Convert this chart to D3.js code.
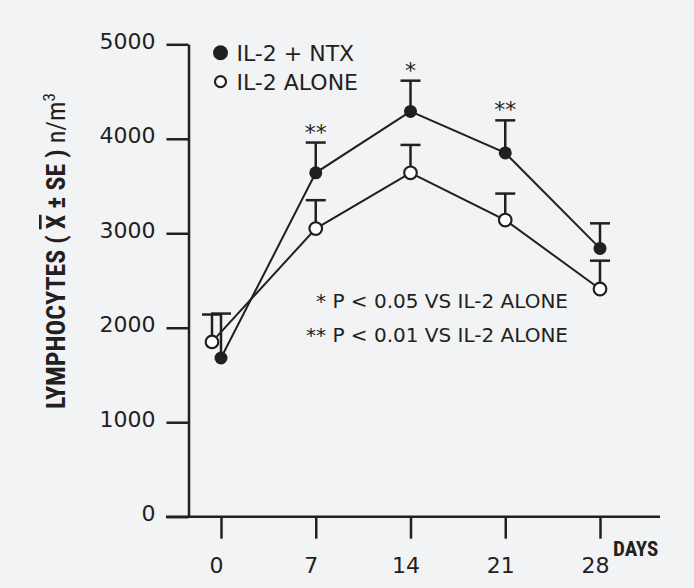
<!DOCTYPE html>
<html>
<head>
<meta charset="utf-8">
<script src="https://cdn.jsdelivr.net/npm/d3@7"></script>
<style>
  html, body { margin: 0; padding: 0; background: #f2f3f5; }
  svg { display: block; }
  .axis path, .axis line { stroke: #231f20; stroke-width: 2.5; }
  .axis text { font-family: "DejaVu Sans", sans-serif; font-size: 22px; fill: #231f20; }
</style>
</head>
<body>
<div id="chart"></div>
<script>
// data
const days = [0, 7, 14, 21, 28];
const ntxMean = [1680, 3640, 4290, 3850, 2840];
const ntxSE = [470, 320, 325, 345, 265];
const aloneMean = [1850, 3050, 3640, 3140, 2410];
const aloneSE = [290, 300, 295, 280, 300];
const signif = ['', '**', '*', '**', ''];
const yTicks = [0, 1000, 2000, 3000, 4000, 5000];

const width = 694, height = 588;
const ink = '#231f20';
const font = '"DejaVu Sans", sans-serif';
const condensed = '"Liberation Sans Narrow", "Roboto Condensed", "DejaVu Sans Condensed", sans-serif';

const svg = d3.select('#chart').append('svg')
    .attr('width', width)
    .attr('height', height);

const x = d3.scaleLinear().domain([0, 28]).range([221, 600]);
const y = d3.scaleLinear().domain([0, 5000]).range([516.7, 44.3]);
const axisX = 188.5;

// the open series is nudged left at day 0 so the two points don't overlap
const aloneDodge = [-9, 0, 0, 0, 0];

const ntx = days.map((d, i) => ({ day: d, mean: ntxMean[i], se: ntxSE[i], dx: 0, sig: signif[i] }));
const alone = days.map((d, i) => ({ day: d, mean: aloneMean[i], se: aloneSE[i], dx: aloneDodge[i] }));

// Y axis
const yAxis = d3.axisLeft(y)
    .tickValues(yTicks)
    .tickSize(22)
    .tickPadding(11)
    .tickSizeOuter(0)
    .tickFormat(d3.format('d'));

const gy = svg.append('g')
    .attr('class', 'axis')
    .attr('transform', `translate(${axisX},0)`)
    .call(yAxis);
gy.selectAll('text').attr('dy', 4);

// X axis (ticks hang below, baseline runs a bit left of the y axis)
const xAxis = d3.axisBottom(x)
    .tickValues(days)
    .tickSize(22)
    .tickPadding(18.7)
    .tickSizeOuter(0);

const gx = svg.append('g')
    .attr('class', 'axis')
    .attr('transform', `translate(0,${y(0)})`)
    .call(xAxis);
gx.select('.domain').remove();
gx.append('line')
    .attr('x1', 166).attr('x2', 660)
    .attr('y1', 0).attr('y2', 0);
gx.selectAll('.tick text').attr('dx', -5).attr('dy', '0.73em');

svg.append('text')
    .attr('x', 613)
    .attr('y', 556)
    .attr('font-family', condensed)
    .attr('font-weight', 'bold')
    .attr('font-size', 21)
    .attr('fill', ink)
    .text('DAYS');

// Y label
const ylab = svg.append('text')
    .attr('transform', 'translate(65,251) rotate(-90)')
    .attr('text-anchor', 'middle')
    .attr('font-family', condensed)
    .attr('font-weight', 'bold')
    .attr('font-size', 26)
    .attr('fill', ink);
ylab.append('tspan').text('LYMPHOCYTES ( ');
ylab.append('tspan').style('text-decoration', 'overline').text('X');
ylab.append('tspan').text(' \u00b1 SE ) ');
ylab.append('tspan').attr('font-weight', 'normal').text('n/m');
ylab.append('tspan').attr('font-weight', 'normal').attr('font-size', 17).attr('dy', -10).text('3');

// error bars (upper half only)
const capW = 20;
function errorBars(data) {
    const g = svg.append('g').attr('stroke', ink).attr('stroke-width', 2.5);
    g.selectAll('line.stem')
        .data(data)
        .enter()
        .append('line')
        .attr('x1', d => x(d.day) + d.dx)
        .attr('x2', d => x(d.day) + d.dx)
        .attr('y1', d => y(d.mean))
        .attr('y2', d => y(d.mean + d.se));
    g.selectAll('line.cap')
        .data(data)
        .enter()
        .append('line')
        .attr('x1', d => x(d.day) + d.dx - capW / 2)
        .attr('x2', d => x(d.day) + d.dx + capW / 2)
        .attr('y1', d => y(d.mean + d.se))
        .attr('y2', d => y(d.mean + d.se));
}
errorBars(alone);
errorBars(ntx);

// lines
const line = d3.line()
    .x(d => x(d.day) + d.dx)
    .y(d => y(d.mean));

[alone, ntx].forEach(data => {
    svg.append('path')
        .datum(data)
        .attr('d', line)
        .attr('fill', 'none')
        .attr('stroke', ink)
        .attr('stroke-width', 2);
});

// markers
svg.selectAll('.dot-alone')
    .data(alone)
    .enter()
    .append('circle')
    .attr('cx', d => x(d.day) + d.dx)
    .attr('cy', d => y(d.mean))
    .attr('r', 6.3)
    .attr('fill', '#fff')
    .attr('stroke', ink)
    .attr('stroke-width', 2.2);

svg.selectAll('.dot-ntx')
    .data(ntx)
    .enter()
    .append('circle')
    .attr('cx', d => x(d.day))
    .attr('cy', d => y(d.mean))
    .attr('r', 6.5)
    .attr('fill', ink);

// significance marks above the NTX error bars
svg.selectAll('.sig')
    .data(ntx.filter(d => d.sig))
    .enter()
    .append('text')
    .attr('x', d => x(d.day))
    .attr('y', d => y(d.mean + d.se) - 3)
    .attr('text-anchor', 'middle')
    .attr('font-family', font)
    .attr('font-size', 22)
    .attr('fill', ink)
    .text(d => d.sig);

// legend
const legend = [
    { label: 'IL-2 + NTX', filled: true },
    { label: 'IL-2 ALONE', filled: false }
];
const lg = svg.append('g').attr('transform', 'translate(220.5,52.7)');
legend.forEach((d, i) => {
    lg.append('circle')
        .attr('cx', 0)
        .attr('cy', i * 29)
        .attr('r', d.filled ? 7.5 : 5.5)
        .attr('fill', d.filled ? ink : '#fff')
        .attr('stroke', d.filled ? 'none' : ink)
        .attr('stroke-width', 2.2);
    lg.append('text')
        .attr('x', 16)
        .attr('y', i * 29 + 8)
        .attr('font-family', font)
        .attr('font-size', 22)
        .attr('fill', ink)
        .text(d.label);
});

// p-value notes
const notes = ['* P < 0.05 VS IL-2 ALONE', '** P < 0.01 VS IL-2 ALONE'];
svg.selectAll('.note')
    .data(notes)
    .enter()
    .append('text')
    .attr('x', 568)
    .attr('y', (d, i) => 308.3 + i * 33.4)
    .attr('text-anchor', 'end')
    .attr('font-family', font)
    .attr('font-size', 20)
    .attr('fill', ink)
    .text(d => d);
</script>
</body>
</html>
